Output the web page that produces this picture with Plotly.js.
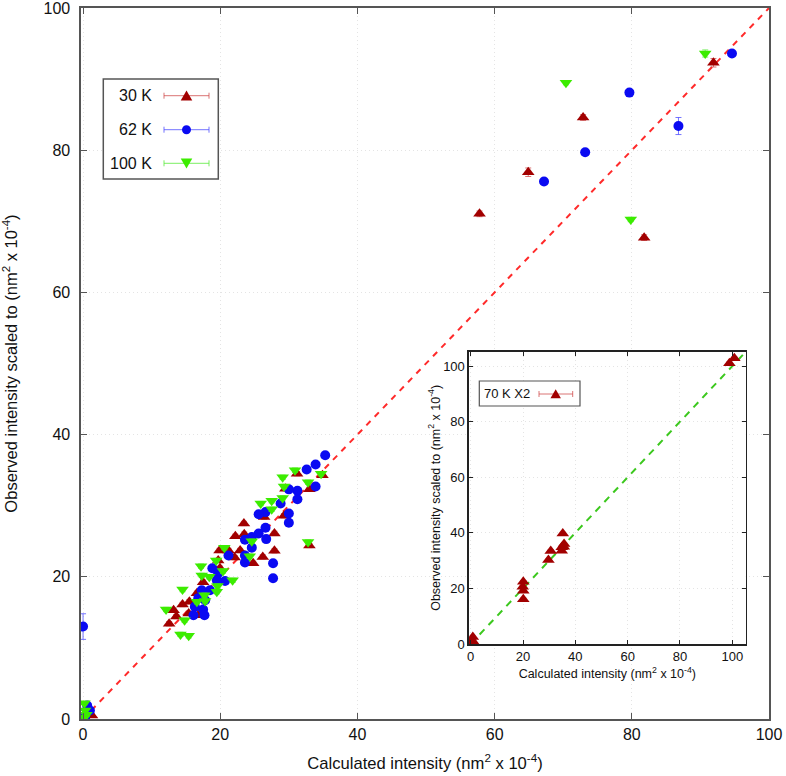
<!DOCTYPE html>
<html><head><meta charset="utf-8">
<script src="https://cdn.plot.ly/plotly-3.0.1.min.js"></script>
<style>html,body{margin:0;padding:0;background:#fff}#plot{width:786px;height:776px}</style>
</head><body><div id="plot"></div>
<script>
// ---- data ----
const x30 = [34.9,31.2,33.0,29.5,29.3,26.4,23.45,23.5,22.2,27.9,33.0,27.9,26.2,24.8,22.9,22.1,21.2,19.9,19.7,19.96,17.5,16.6,15.5,14.5,13.2,15.4,16.8,13.6,12.55,0.2,1.3,0.6,91.9,72.9,64.9,57.8,81.8];
const y30 = [34.3,34.5,32.3,32.4,28.6,28.4,27.5,26.0,25.7,26.1,24.4,23.65,22.8,21.9,23.7,22.7,23.7,23.7,22.3,21.2,19.25,17.7,16.5,16.1,15.3,14.85,14.6,14.4,13.4,0.3,0.5,0.9,92.3,84.6,76.9,71.05,67.7];
const e30 = [0.3,0.3,0.3,0.3,0.3,0.3,0.3,0.3,0.3,0.3,0.3,0.3,0.3,0.3,0.3,0.3,0.3,0.3,0.3,0.3,0.3,0.3,0.3,0.3,0.3,0.3,0.3,0.3,0.3,0.2,0.2,0.2,0.6,0.4,0.6,0.4,0.4];

const x62 = [35.3,33.9,32.6,33.9,31.25,31.25,30.0,28.8,30.0,30.0,26.6,25.6,26.6,25.6,24.6,23.6,26.7,24.6,23.6,23.6,27.7,27.7,21.2,18.85,19.7,20.7,19.5,18.5,17.3,16.8,17.8,16.3,17.5,17.7,16.1,0.0,0.6,0.3,1.0,94.6,79.65,86.8,73.2,67.2];
const y62 = [37.1,35.8,35.1,32.7,32.1,30.9,32.3,30.3,28.9,27.6,29.1,28.8,26.9,26.1,25.6,25.2,25.3,24.1,23.0,22.0,21.9,19.8,23.0,21.2,20.5,19.4,19.5,18.1,18.1,17.0,16.7,15.8,15.4,14.6,14.6,13.0,1.9,0.3,1.2,93.6,88.1,83.4,79.7,75.6];
const e62 = [0.3,0.3,0.3,0.3,0.3,0.3,0.3,0.3,0.3,0.3,0.3,0.3,0.3,0.3,0.3,0.3,0.3,0.3,0.3,0.3,0.3,0.3,0.3,0.3,0.3,0.3,0.3,0.3,0.3,0.3,0.3,0.3,0.3,0.3,0.3,1.8,0.2,0.2,0.2,0.3,0.3,1.2,0.3,0.3];

const x100 = [30.9,34.7,29.1,29.3,32.8,29.1,27.5,25.9,27.5,32.8,24.6,24.3,20.6,19.4,20.4,21.8,17.2,17.3,18.4,19.6,19.5,14.5,17.7,16.6,17.8,12.1,14.8,14.2,15.4,0.2,0.3,0.5,0.2,90.7,70.4,79.85];
const y100 = [35.0,34.5,34.0,32.7,33.3,31.1,30.7,30.3,29.5,24.9,25.0,22.9,24.1,22.3,20.8,19.5,21.5,20.2,20.0,18.7,17.9,18.2,17.4,16.5,16.6,15.4,13.9,11.9,11.7,2.2,1.2,0.6,0.2,93.6,89.5,70.25];
const e100 = [0.3,0.3,0.3,0.3,0.3,0.3,0.3,0.3,0.3,0.3,0.3,0.3,0.3,0.3,0.3,0.3,0.3,0.3,0.3,0.3,0.3,0.3,0.3,0.3,0.3,0.3,0.3,0.3,0.3,0.2,0.2,0.2,0.2,0.5,0.3,0.3];

const x70 = [0.0,0.5,0.8,1.0,20.1,19.9,20.1,20.1,29.7,30.6,35.2,34.8,35.7,34.8,35.6,98.9,100.8];
const y70 = [0.3,1.2,2.5,0.8,22.4,20.6,19.2,16.1,30.2,33.5,39.8,34.8,36.0,33.6,35.0,101.0,102.8];
const e70 = [0.3,0.3,0.3,0.3,0.4,0.4,0.4,0.4,0.4,0.4,0.4,0.4,0.4,0.4,0.4,0.5,0.5];

const mainLine = [0, 100];
const insetLine = [0, 105];
const ticks = [0, 20, 40, 60, 80, 100];
const seriesNames = ['30 K', '62 K', '100 K'];
const insetName = '70 K X2';

const xTitle = 'Calculated intensity (nm<sup>2</sup> x 10<sup>-4</sup>)';
const yTitle = 'Observed intensity scaled to (nm<sup>2</sup> x 10<sup>-4</sup>)';

// ---- styles ----
const RED = '#a20000', BLUE = '#0a0af2', GREEN = '#3cec00';
const ERED = 'rgba(205,70,70,0.75)', EBLUE = 'rgba(80,80,255,0.8)', EGREEN = 'rgba(100,235,70,0.85)';
const FONT = 'Liberation Sans, Arial, Helvetica, sans-serif';
const ML = 81, MR = 17, MT = 8, MB = 57, W = 786, H = 776;
const PW = W - ML - MR, PH = H - MT - MB;
const px2x = p => (p - ML) / PW;
const px2y = p => (H - MB - p) / PH;

function errs(arr, col) {
  return {type: 'data', array: arr, visible: true, color: col, thickness: 1, width: 3};
}

const traces = [
  {x: mainLine, y: mainLine, mode: 'lines', showlegend: false, hoverinfo: 'skip',
   line: {color: '#ff2a2a', width: 2, dash: '6px,6px'}},
  {x: x30, y: y30, name: seriesNames[0], mode: 'markers',
   marker: {symbol: 'triangle-up', size: 11, color: RED}, error_y: errs(e30, ERED)},
  {x: x62, y: y62, name: seriesNames[1], mode: 'markers',
   marker: {symbol: 'circle', size: 10, color: BLUE}, error_y: errs(e62, EBLUE)},
  {x: x100, y: y100, name: seriesNames[2], mode: 'markers',
   marker: {symbol: 'triangle-down', size: 11, color: GREEN}, error_y: errs(e100, EGREEN)},
  {x: insetLine, y: insetLine, xaxis: 'x2', yaxis: 'y2', mode: 'lines', showlegend: false, hoverinfo: 'skip',
   line: {color: '#3cc81e', width: 2, dash: '7px,6px'}},
  {x: x70, y: y70, xaxis: 'x2', yaxis: 'y2', name: insetName, mode: 'markers',
   marker: {symbol: 'triangle-up', size: 11, color: RED}, error_y: errs(e70, ERED)}
];

// ---- gnuplot-style keys (text, then a short errorbar line with the symbol) ----
const shapes = [];
const annotations = [];
// white cover under the inset so the main grid does not show through it
shapes.push({type: 'rect', xref: 'x2', yref: 'y2', x0: -0.64, x1: 105.1, y0: 0, y1: 105.2,
  layer: 'below', fillcolor: '#fff', line: {width: 0}});

function keyBox(x0, x1, y0, y1, lw) {
  shapes.push({type: 'rect', xref: 'paper', yref: 'paper', x0: px2x(x0), x1: px2x(x1),
    y0: px2y(y1), y1: px2y(y0), fillcolor: '#fff', line: {color: '#555', width: lw}});
}
function keyEntry(label, textRight, cy, lx0, lx1, mx, sym, col, ecol, fs, s) {
  annotations.push({xref: 'paper', yref: 'paper', x: px2x(textRight), y: px2y(cy),
    xanchor: 'right', yanchor: 'middle', showarrow: false, text: label,
    font: {size: fs, color: '#111', family: FONT}});
  const ln = {color: ecol, width: 1};
  shapes.push({type: 'line', xref: 'paper', yref: 'paper', x0: px2x(lx0), x1: px2x(lx1), y0: px2y(cy), y1: px2y(cy), line: ln});
  shapes.push({type: 'line', xref: 'paper', yref: 'paper', x0: px2x(lx0), x1: px2x(lx0), y0: px2y(cy - 3), y1: px2y(cy + 3), line: ln});
  shapes.push({type: 'line', xref: 'paper', yref: 'paper', x0: px2x(lx1), x1: px2x(lx1), y0: px2y(cy - 3), y1: px2y(cy + 3), line: ln});
  if (sym === 'circle') {
    shapes.push({type: 'circle', xref: 'paper', yref: 'paper', x0: px2x(mx - s / 2), x1: px2x(mx + s / 2),
      y0: px2y(cy + s / 2), y1: px2y(cy - s / 2), fillcolor: col, line: {width: 0}});
  } else {
    const d = sym === 'up' ? 1 : -1;
    const pts = [[mx - s * 0.55, cy + d * s * 0.45], [mx + s * 0.55, cy + d * s * 0.45], [mx, cy - d * s * 0.5]];
    const path = 'M' + pts.map(p => px2x(p[0]) + ',' + px2y(p[1])).join(' L') + ' Z';
    shapes.push({type: 'path', xref: 'paper', yref: 'paper', path: path, fillcolor: col, line: {width: 0}});
  }
}
keyBox(103.3, 218.3, 79, 179, 1.5);
keyEntry(seriesNames[0], 154.3, 95.7, 164, 209, 186.5, 'up', RED, ERED, 16, 10.5);
keyEntry(seriesNames[1], 154.3, 129.7, 164, 209, 186.5, 'circle', BLUE, EBLUE, 16, 9);
keyEntry(seriesNames[2], 154.3, 163.3, 164, 209, 186.5, 'down', GREEN, EGREEN, 16, 10.5);
keyBox(479.3, 580, 381, 406, 1.2);
keyEntry(insetName, 532.3, 394, 539, 572.7, 555.7, 'up', RED, ERED, 13, 9.5);

const axBase = {
  showline: true, linecolor: '#555', linewidth: 1.6, mirror: 'ticks',
  ticks: 'inside', ticklen: 6, tickcolor: '#555',
  showgrid: true, gridcolor: '#e4e4e4', griddash: '1px,3px', gridwidth: 1,
  zeroline: false, tickvals: ticks, ticktext: ticks.map(String), ticklabeloverflow: 'allow'
};

const layout = {
  width: W, height: H,
  margin: {l: ML, r: MR, t: MT, b: MB},
  paper_bgcolor: '#fff', plot_bgcolor: '#fff',
  font: {family: FONT, size: 16, color: '#111'},
  showlegend: false,
  xaxis: Object.assign({}, axBase, {range: [-0.3, 100], domain: [0, 1],
    tickfont: {size: 16}, title: {text: xTitle, font: {size: 16.6}, standoff: 15}}),
  yaxis: Object.assign({}, axBase, {range: [0, 100], domain: [0, 1], ticklabelstandoff: 6,
    tickfont: {size: 16}, title: {text: yTitle, font: {size: 16.5}, standoff: 27}}),
  xaxis2: Object.assign({}, axBase, {anchor: 'y2', range: [-0.64, 105.1], domain: [0.564, 0.966],
    linecolor: '#222', tickcolor: '#222', ticklen: 4,
    tickfont: {size: 13}, title: {text: xTitle, font: {size: 12.5}, standoff: 6}}),
  yaxis2: Object.assign({}, axBase, {anchor: 'x2', range: [0, 105.2], domain: [0.1055, 0.5166],
    linecolor: '#222', tickcolor: '#222', ticklen: 4,
    tickfont: {size: 13}, title: {text: yTitle, font: {size: 12.5}, standoff: 0}}),
  shapes: shapes,
  annotations: annotations
};

Plotly.newPlot('plot', traces, layout, {displayModeBar: false, staticPlot: true});
</script>
</body></html>
